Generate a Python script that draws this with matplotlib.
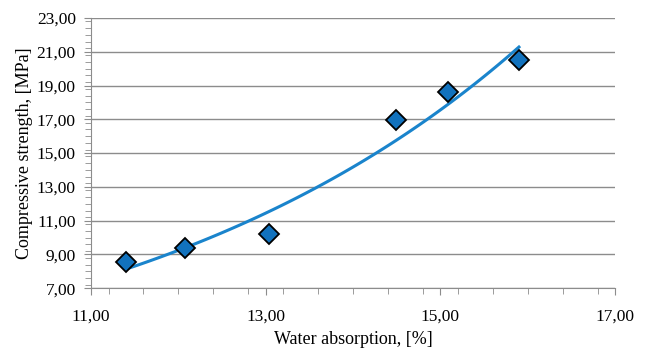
import numpy as np
import matplotlib
matplotlib.use('Agg')
import matplotlib.pyplot as plt
from matplotlib.ticker import FixedLocator, MultipleLocator, FuncFormatter

water_absorption = [11.40, 12.07, 13.04, 14.49, 15.09, 15.90]
compressive_strength = [8.54, 9.37, 10.20, 16.94, 18.63, 20.49]
x_ticks = [11, 13, 15, 17]
y_ticks = [7, 9, 11, 13, 15, 17, 19, 21, 23]

plt.rcParams['font.family'] = 'Liberation Serif'
plt.rcParams['font.size'] = 12.5

fig, ax = plt.subplots(figsize=(6.46, 3.54), dpi=100)
fig.subplots_adjust(left=0.141, right=0.952, top=0.949, bottom=0.186)

# exponential trendline (log-linear fit, like excel)
x = np.array(water_absorption)
y = np.array(compressive_strength)
b, ln_a = np.polyfit(x, np.log(y), 1)
xs = np.linspace(x.min(), x.max(), 100)
ax.plot(xs, np.exp(ln_a + b * xs), color='#1a84cc', lw=2.2, zorder=2)

ax.plot(x, y, 'D', ms=10.5, mfc='#1272bd', mec='black', mew=1.3, zorder=3)

ax.set_xlim(11, 17)
ax.set_ylim(7, 23)
ax.xaxis.set_major_locator(FixedLocator(x_ticks))
ax.xaxis.set_minor_locator(MultipleLocator(0.4))
ax.yaxis.set_major_locator(FixedLocator(y_ticks))
ax.yaxis.set_minor_locator(MultipleLocator(0.4))
fmt = FuncFormatter(lambda v, p: f'{v:.2f}'.replace('.', ','))
ax.xaxis.set_major_formatter(fmt)
ax.yaxis.set_major_formatter(fmt)

ax.grid(axis='y', color='#8c8c8c', lw=1)
ax.set_axisbelow(True)
for s in ['top', 'right']:
    ax.spines[s].set_visible(False)
for s in ['left', 'bottom']:
    ax.spines[s].set_color('#8c8c8c')
ax.tick_params(which='both', color='#8c8c8c', direction='out')
ax.tick_params(which='major', length=5, pad=6)
ax.tick_params(which='minor', length=4)
ax.tick_params(axis='x', which='major', pad=10)

ax.set_xlabel('Water absorption, [%]', fontsize=13, labelpad=4)
ax.set_ylabel('Compressive strength, [MPa]', fontsize=13, labelpad=3)

fig.savefig('out.png', dpi=100)
